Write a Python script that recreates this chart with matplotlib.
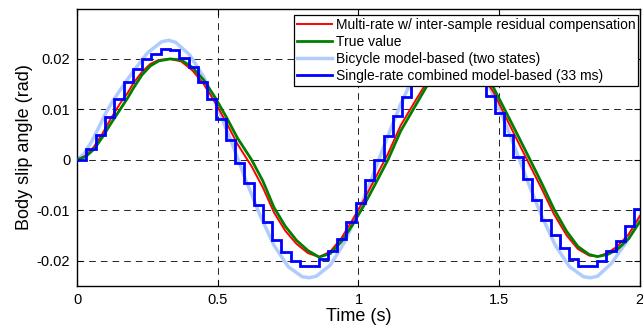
import numpy as np
import matplotlib.pyplot as plt

plt.rcParams['font.family'] = ['Liberation Sans', 'DejaVu Sans']
plt.rcParams['font.size'] = 10

# true value (green) and multi-rate estimate (red), read at the same instants
t_true = [0.00, 0.03, 0.06, 0.09, 0.12, 0.153, 0.18, 0.20, 0.23, 0.26, 0.29, 0.33,
          0.37, 0.41, 0.45, 0.49, 0.53, 0.57, 0.62, 0.66, 0.70, 0.74, 0.78, 0.82,
          0.86, 0.90, 0.94, 0.98, 1.02, 1.06, 1.105, 1.15, 1.20, 1.245, 1.29, 1.34,
          1.39, 1.44, 1.48, 1.525, 1.565, 1.61, 1.65, 1.695, 1.74, 1.78, 1.82, 1.85,
          1.885, 1.92, 1.96, 2.00]
true_val = [0.0, 0.0006, 0.0021, 0.0045, 0.0072, 0.0100, 0.0123, 0.0142, 0.0168, 0.0186,
            0.0196, 0.0200, 0.0198, 0.0183, 0.0158, 0.0124, 0.0085, 0.0043, 0.0, -0.0042,
            -0.0095, -0.0132, -0.0160, -0.0180, -0.0193, -0.0186, -0.0162, -0.0128,
            -0.0090, -0.0048, 0.0, 0.0057, 0.0105, 0.0148, 0.0178, 0.0197, 0.0196,
            0.0175, 0.0143, 0.0094, 0.0050, 0.0, -0.0045, -0.0098, -0.0142, -0.0172,
            -0.0188, -0.0192, -0.0188, -0.0178, -0.0157, -0.0123]
multi_rate = [0.0, 0.0008, 0.0026, 0.0052, 0.0082, 0.0112, 0.0133, 0.0152, 0.0174, 0.0190,
              0.0198, 0.0200, 0.0195, 0.0177, 0.0150, 0.0114, 0.0074, 0.0031, -0.0013,
              -0.0055, -0.0105, -0.0141, -0.0167, -0.0185, -0.0193, -0.0182, -0.0155,
              -0.0118, -0.0079, -0.0036, 0.0012, 0.0068, 0.0115, 0.0156, 0.0184, 0.0199,
              0.0193, 0.0168, 0.0134, 0.0083, 0.0038, -0.0012, -0.0056, -0.0108, -0.0150,
              -0.0177, -0.0190, -0.0192, -0.0185, -0.0172, -0.0148, -0.0112]

# bicycle model (two states), light blue
t_bic = [0.00, 0.025, 0.05, 0.075, 0.10, 0.125, 0.15, 0.175, 0.20, 0.25, 0.30, 0.325,
         0.35, 0.40, 0.45, 0.50, 0.55, 0.60, 0.65, 0.70, 0.75, 0.80, 0.825, 0.85, 0.90,
         0.95, 1.00, 1.05, 1.10, 1.15, 1.20, 1.25, 1.30, 1.325, 1.35, 1.40, 1.45, 1.50,
         1.55, 1.60, 1.65, 1.70, 1.75, 1.80, 1.825, 1.85, 1.90, 1.95, 2.00]
bicycle = [0.0, 0.0012, 0.0035, 0.0062, 0.0091, 0.0115, 0.0136, 0.0156, 0.0176, 0.0212,
           0.0234, 0.0237, 0.0233, 0.0208, 0.0164, 0.0103, 0.0033, -0.0041, -0.0110,
           -0.0170, -0.0212, -0.0232, -0.0234, -0.0231, -0.0209, -0.0164, -0.0103,
           -0.0033, 0.0041, 0.0110, 0.0170, 0.0212, 0.0234, 0.0236, 0.0232, 0.0209,
           0.0164, 0.0103, 0.0033, -0.0041, -0.0110, -0.0170, -0.0212, -0.0232, -0.0234,
           -0.0231, -0.0205, -0.0165, -0.0112]

# single-rate combined model-based, one value per 33 ms sample
dt_single = 0.033
single_rate = [0.0, 0.0021, 0.005, 0.0085, 0.012, 0.0155, 0.018, 0.020, 0.021, 0.022,
               0.0217, 0.0201, 0.0183, 0.0155, 0.012, 0.008, 0.004, -0.0007, -0.0047,
               -0.009, -0.0123, -0.016, -0.0183, -0.020, -0.021, -0.021, -0.0197, -0.018,
               -0.0157, -0.0123, -0.0085, -0.004, 0.0, 0.0047, 0.0087, 0.0125, 0.0155,
               0.018, 0.020, 0.021, 0.022, 0.0215, 0.0195, 0.016, 0.0127, 0.0093, 0.005,
               0.0005, -0.0039, -0.008, -0.0119, -0.015, -0.0175, -0.0197, -0.021, -0.021,
               -0.020, -0.018, -0.0161, -0.0132, -0.0097]

labels = ['Multi-rate w/ inter-sample residual compensation', 'True value',
          'Bicycle model-based (two states)', 'Single-rate combined model-based (33 ms)']
yticks = [-0.02, -0.01, 0, 0.01, 0.02]
ytick_labels = ['-0.02', '-0.01', '0', '0.01', '0.02']
xticks = [0, 0.5, 1, 1.5, 2]
xtick_labels = ['0', '0.5', '1', '1.5', '2']

fig = plt.figure(figsize=(6.43, 3.27), dpi=100)
ax = fig.add_axes([0.120, 0.126, 0.875, 0.848])

h_bic, = ax.plot(t_bic, bicycle, color='#b0ccff', lw=2.5, zorder=2)
h_red, = ax.plot(t_true, multi_rate, color='#ff0000', lw=1.4, zorder=3)
h_true, = ax.plot(t_true, true_val, color='#008000', lw=2.0, zorder=4)
edges = np.arange(len(single_rate) + 1) * dt_single
h_sr = ax.stairs(single_rate, edges, baseline=None, color='#0000ff', lw=2.0, zorder=5)
h_sr_leg, = ax.plot([], [], color='#0000ff', lw=2.0)

ax.set_xlim(0, 2)
ax.set_ylim(-0.025, 0.03)
ax.set_xticks(xticks)
ax.set_xticklabels(xtick_labels)
ax.set_yticks(yticks)
ax.set_yticklabels(ytick_labels)
ax.tick_params(direction='in', top=True, right=True, length=4, width=0.8,
               labelsize=10.5, pad=5)
ax.grid(True, color='k', lw=0.6, ls=(0, (8, 6)))
for s in ax.spines.values():
    s.set_linewidth(1.0)

ax.set_xlabel('Time (s)', fontsize=13, labelpad=1)
ax.set_ylabel('Body slip angle (rad)', fontsize=13, labelpad=3)

leg = ax.legend([h_red, h_true, h_bic, h_sr_leg], labels, loc='upper right',
                bbox_to_anchor=(0.997, 0.977), fontsize=10, frameon=True, fancybox=False,
                framealpha=1, edgecolor='k', borderpad=0.2, labelspacing=0.22,
                handlelength=2.5, handletextpad=0.3, borderaxespad=0)
leg.get_frame().set_linewidth(0.9)
leg.set_zorder(10)

fig.savefig('out.png', dpi=100)
